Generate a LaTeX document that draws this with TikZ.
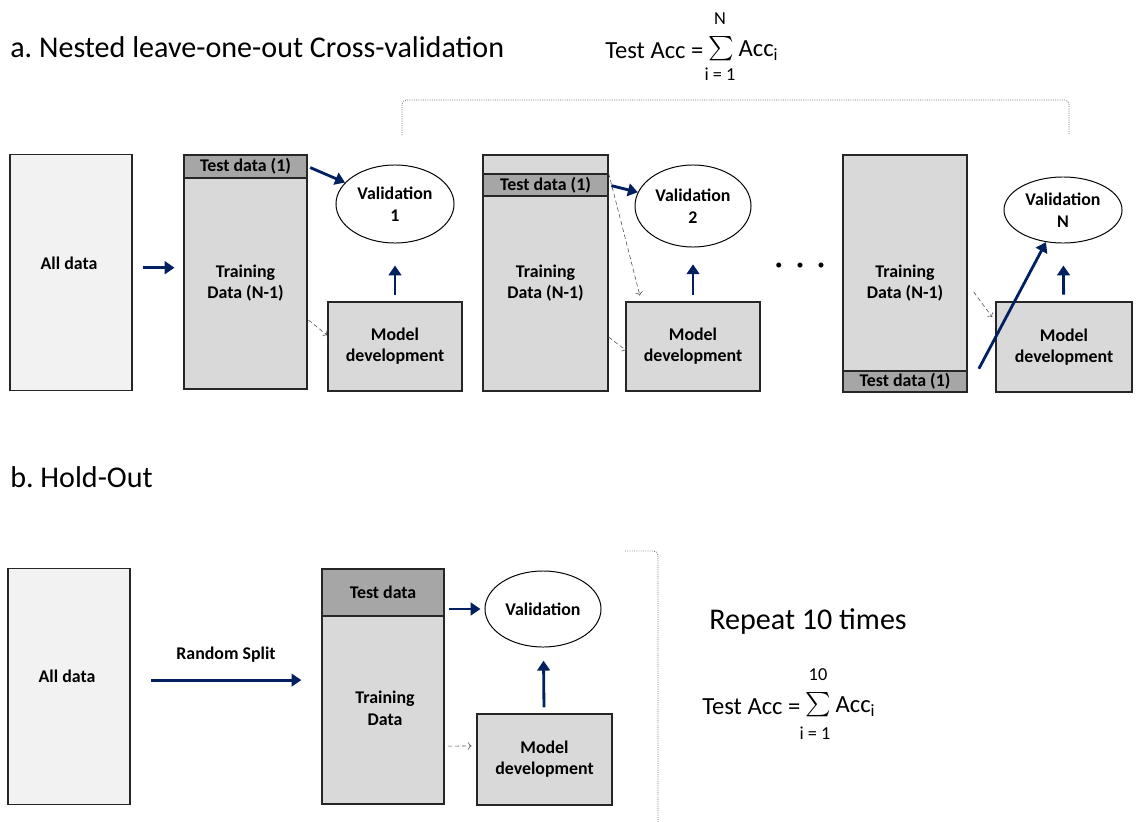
\documentclass[tikz,border=0pt]{standalone}
\usepackage{amsmath}
\usepackage{fontspec}
\setmainfont{Carlito}
\usepackage{tikz}
\usetikzlibrary{arrows,arrows.meta}
\usetikzlibrary{shapes.geometric}
\usetikzlibrary{positioning}
\usetikzlibrary{calc}
\definecolor{arrownavy}{RGB}{0,32,96}
\definecolor{allfill}{RGB}{242,242,242}
\definecolor{boxfill}{RGB}{217,217,217}
\definecolor{testfill}{RGB}{166,166,166}
\tikzstyle{databox} = [draw = black!85, line width = 0.9pt, fill = boxfill, inner sep = 0pt]
\tikzstyle{allbox} = [databox, fill = allfill, minimum width = 3.05cm, minimum height = 5.9cm]
\tikzstyle{band} = [databox, fill = testfill, font = \bfseries\fontsize{12.7}{14}\selectfont]
\tikzstyle{boxtext} = [align = center, font = \bfseries\fontsize{12.7}{15.5}\selectfont]
\tikzstyle{valid} = [draw, ellipse, fill = white, line width = 0.7pt, align = center, inner sep = 0pt, font = \bfseries\fontsize{12.7}{16}\selectfont]
\tikzstyle{modelbox} = [databox, align = center, font = \bfseries\fontsize{12.7}{15}\selectfont]
\tikzstyle{arrow} = [line width = 2pt, draw = arrownavy, -{Triangle[length = 7pt, width = 9pt]}]
\tikzstyle{feed} = [black!70, densely dashed, line width = 0.4pt, ->]
\tikzstyle{bracket} = [black!55, densely dotted, line width = 0.6pt, rounded corners = 3pt]
\tikzstyle{heading} = [anchor = west, inner sep = 0pt, font = \fontsize{21.4}{24}\selectfont]
\tikzstyle{formula} = [inner sep = 0pt, font = \fontsize{17.5}{20}\selectfont]
\tikzstyle{sigma} = [inner sep = 0pt, text height = 12pt, text depth = 4pt, font = \fontsize{16}{18}\selectfont]
\tikzstyle{limit} = [inner sep = 0pt, font = \fontsize{13}{15}\selectfont]

\begin{document}
\frenchspacing
\begin{tikzpicture}[x = 0.025cm, y = -0.025cm]
			\useasboundingbox (0,0) rectangle (1136,821);
			
			% a. Nested leave-one-out
			\node[heading] (titleA) at (10,47) {a. Nested leave-one-out Cross-validation};
			\node[sigma] (sumA) at (721,49) {$\textstyle\sum$};
			\node[formula, left = 3pt of sumA, yshift = -1pt] (accA) {Test Acc =};
			\node[formula, right = 3pt of sumA, yshift = -1pt] (acciA) {Acc\textsubscript{i}};
			\node[limit] (upA) at (720,19) {N};
			\node[limit] (lowA) at (720,74) {i = 1};
			\draw[bracket] (402,135) -- (402,100) -- (1069,100) -- (1069,135);
			
			\node[allbox] (alldataA) at (71,272.5) {};
			\node[boxtext] (alltxtA) at (69,263) {All data};
			
			% Fold 1
			\node[databox, minimum width = 3.075cm, minimum height = 5.85cm] (train1) at (245.5,272) {};
			\node[band, anchor = north, minimum width = 3.075cm, minimum height = 0.575cm] (test1) at (train1.north) {Test data (1)};
			\node[boxtext] (traintxt1) at (245.5,283) {Training\\Data (N-1)};
			\node[valid, minimum width = 2.95cm, minimum height = 1.95cm] (val1) at (395,204) {Validation\\1};
			\node[modelbox, minimum width = 3.35cm, minimum height = 2.225cm] (model1) at (395,346.5) {Model\\development};
			
			% Fold 2
			\node[databox, minimum width = 3.125cm, minimum height = 5.9cm] (train2) at (545.5,273) {};
			\node[band, anchor = north, minimum width = 3.125cm, minimum height = 0.55cm] (test2) at ([yshift = -0.475cm]train2.north) {Test data (1)};
			\node[boxtext] (traintxt2) at (545.5,283) {Training\\Data (N-1)};
			\node[valid, minimum width = 2.9cm, minimum height = 2.05cm] (val2) at (693,206) {Validation\\2};
			\node[modelbox, minimum width = 3.35cm, minimum height = 2.225cm] (model2) at (693,346.5) {Model\\development};
			
			\node (dots) at (800,266) {\textbullet\hspace{10pt}\textbullet\hspace{10pt}\textbullet};
			
			% Fold N
			\node[databox, minimum width = 3.1cm, minimum height = 5.925cm] (trainN) at (905,273.5) {};
			\node[band, anchor = south, minimum width = 3.1cm, minimum height = 0.525cm] (testN) at (trainN.south) {Test data (1)};
			\node[boxtext] (traintxtN) at (905,283) {Training\\Data (N-1)};
			\node[valid, minimum width = 2.95cm, minimum height = 1.65cm] (valN) at (1063,210) {Validation\\N};
			\node[modelbox, minimum width = 3.4cm, minimum height = 2.25cm] (modelN) at (1064,347) {Model\\development};
			
			% Connect fold nodes
			\draw[arrow, shorten <= 0.25cm, shorten >= 0.22cm] ([yshift = 0.12cm]alldataA.east) -- ([yshift = 0.12cm]alldataA.east -| train1.west);
			\draw[arrow, shorten <= 2pt] (test1.east) -- (val1);
			\draw[arrow, shorten <= 0.15cm, shorten >= 0.55cm] (model1) -- (val1);
			\draw[feed] ([shift = {(0.02cm,-1.2cm)}]train1.east) -- ([yshift = 0.28cm]model1.west);
			
			\draw[arrow, shorten <= 2pt] (test2.east) -- (val2);
			\draw[arrow, shorten <= 0.17cm, shorten >= 0.42cm] (model2) -- (val2);
			\draw[feed, shorten >= 0.15cm] (test2.north east) -- ([xshift = 0.4cm]model2.north west);
			\draw[feed] ([yshift = -1.6cm]train2.east) -- ([shift = {(0.02cm,-0.1cm)}]model2.west);
			
			\draw[arrow] ([shift = {(0.28cm,0.32cm)}]testN.east) -- (valN);
			\draw[arrow, shorten <= 0.17cm, shorten >= 0.55cm] (modelN) -- (valN);
			\draw[feed] ([shift = {(0.15cm,-0.46cm)}]trainN.east) -- ([shift = {(-0.08cm,0.75cm)}]modelN.west);
			
			% b. Hold-Out
			\node[heading] (titleB) at (10,477) {b. Hold-Out};
			\node[allbox] (alldataB) at (69,686.5) {};
			\node[boxtext] (alltxtB) at (67,676) {All data};
			
			\node[databox, minimum width = 3.05cm, minimum height = 5.875cm] (trainB) at (383,686.5) {};
			\node[band, anchor = north, minimum width = 3.05cm, minimum height = 1.175cm] (testB) at (trainB.north) {Test data};
			\node[boxtext] (traintxtB) at (385,708) {Training\\Data};
			\node[valid, minimum width = 2.9cm, minimum height = 1.9cm] (valB) at (543,609) {Validation};
			\node[modelbox, minimum width = 3.375cm, minimum height = 2.275cm] (modelB) at (544.5,759.5) {Model\\development};
			
			\draw[arrow, shorten <= 0.5cm, shorten >= 0.5cm] ([yshift = 0.16cm]alldataB.east) -- ([yshift = 0.16cm]trainB.west) node[midway, above = 0.3cm, boxtext] (splitlbl) {Random Split};
			\draw[arrow, shorten <= 0.12cm, shorten >= 0.1cm] (testB.east |- valB) -- (valB);
			\draw[arrow, shorten <= 0.15cm, shorten >= 0.33cm] (modelB) -- (valB);
			\draw[feed] ([shift = {(0.08cm,-1.49cm)}]trainB.east) -- ([shift = {(-0.12cm,0.34cm)}]modelB.west);
			
			\draw[bracket] (625,551) -- (658,551) -- (658,823);
			
			\node[heading, anchor = center] (repeat) at (808,622) {Repeat 10 times};
			\node[sigma] (sumB) at (818,705) {$\textstyle\sum$};
			\node[formula, left = 3pt of sumB, yshift = -1pt] (accB) {Test Acc =};
			\node[formula, right = 3pt of sumB, yshift = -1pt] (acciB) {Acc\textsubscript{i}};
			\node[limit] (upB) at (818,675) {10};
			\node[limit] (lowB) at (815,733) {i = 1};
		
		\end{tikzpicture}
\end{document}
